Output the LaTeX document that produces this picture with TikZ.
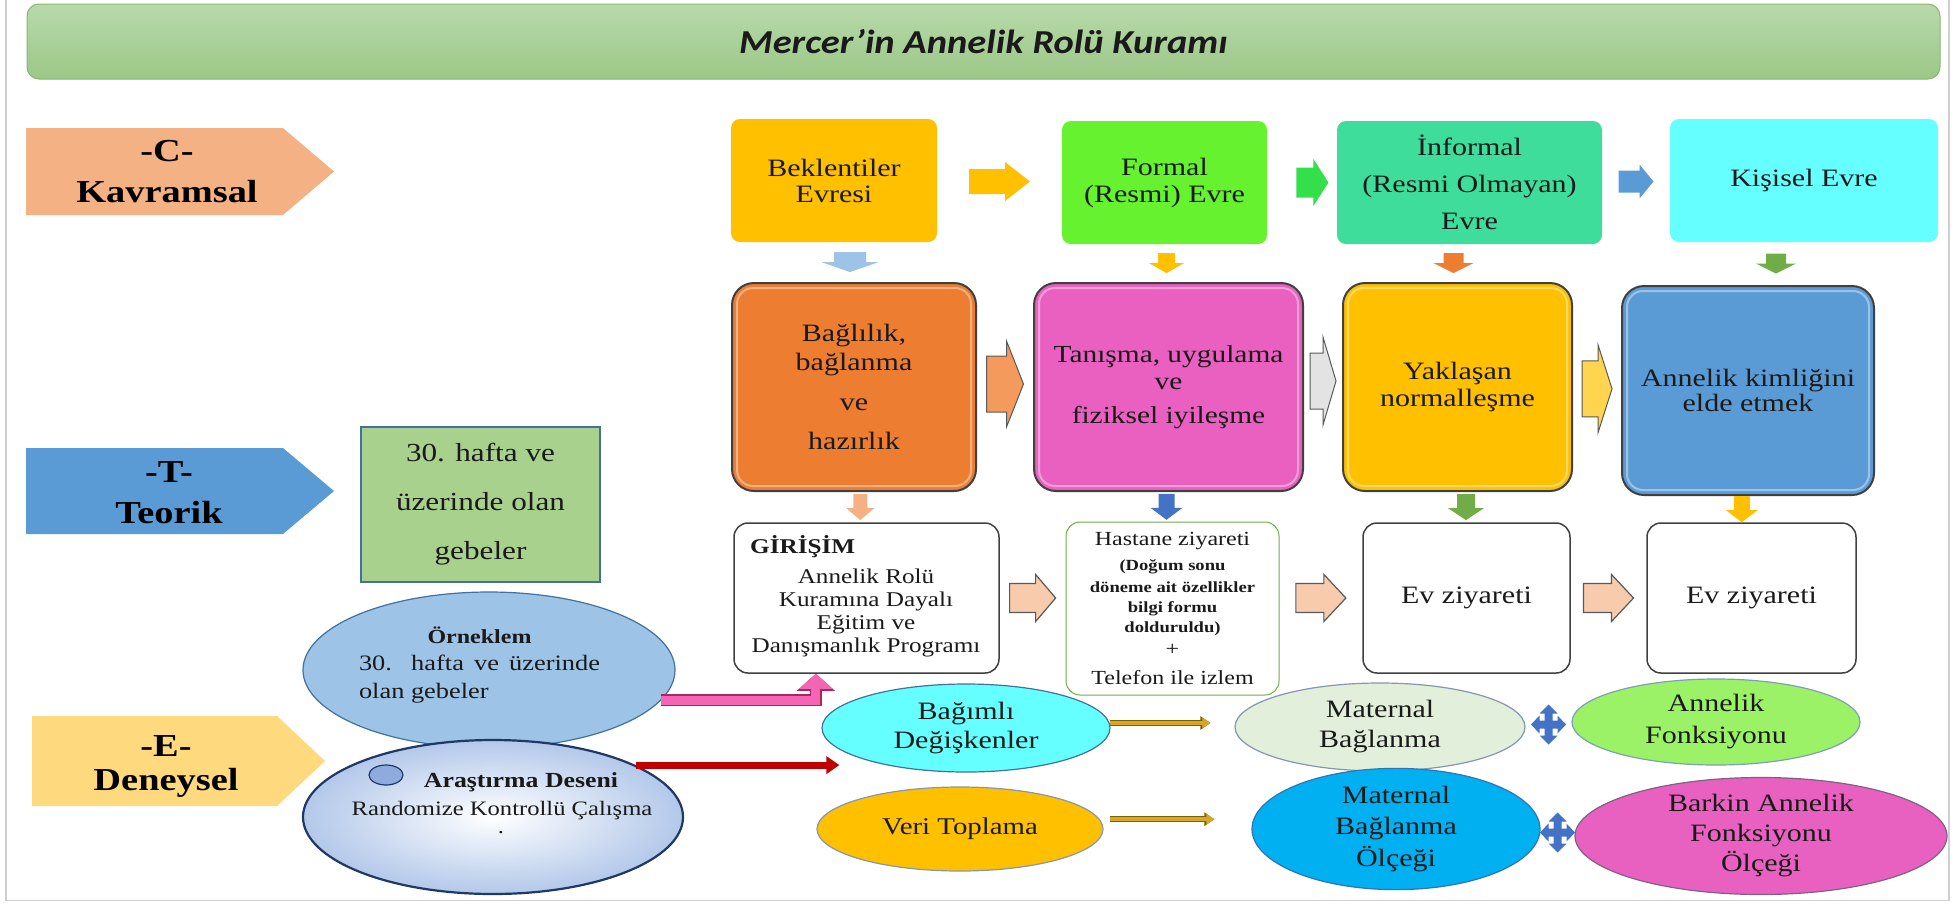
\documentclass[tikz,border=0pt]{standalone}
\usepackage{fontspec}
\setmainfont{Liberation Serif}[FakeStretch=1.2]
\newfontfamily\titlefont{Carlito}[FakeStretch=1.15]
\usetikzlibrary{calc,arrows.meta,shapes.geometric}
\newcommand\fsz[2]{\fontsize{#1}{#2}\selectfont}
\definecolor{cText}{HTML}{1A1A1A}
\definecolor{cFrame}{HTML}{CFCFCF}
\definecolor{cTitleTop}{HTML}{B8DAAB}
\definecolor{cTitleBot}{HTML}{9CC787}
\definecolor{cTitleBorder}{HTML}{86B872}
\definecolor{cC}{HTML}{F4B183}
\definecolor{cT}{HTML}{5B9BD5}
\definecolor{cE}{HTML}{FFD97D}
\definecolor{cB1}{HTML}{FFC000}
\definecolor{cB2}{HTML}{66F22E}
\definecolor{cB3}{HTML}{3EDD9B}
\definecolor{cB4}{HTML}{66FFFF}
\definecolor{cA1}{HTML}{FFC000}
\definecolor{cA2}{HTML}{33E04C}
\definecolor{cA3}{HTML}{5B9BD5}
\definecolor{cR1}{HTML}{ED7D31}
\definecolor{cR2}{HTML}{E960C0}
\definecolor{cR3}{HTML}{FFC000}
\definecolor{cR4}{HTML}{5B9BD5}
\definecolor{cBorder}{HTML}{404040}
\definecolor{cD1}{HTML}{9DC3E6}
\definecolor{cD2}{HTML}{FFC000}
\definecolor{cD3}{HTML}{ED7D31}
\definecolor{cD4}{HTML}{70AD47}
\definecolor{cE1}{HTML}{F4B183}
\definecolor{cE2}{HTML}{4472C4}
\definecolor{cE3}{HTML}{70AD47}
\definecolor{cE4}{HTML}{FFC000}
\definecolor{cH1}{HTML}{F49A5C}
\definecolor{cH2}{HTML}{E3E3E3}
\definecolor{cH3}{HTML}{FFD54F}
\definecolor{cOut}{HTML}{595959}
\definecolor{cG}{HTML}{F8CBAD}
\definecolor{cDark}{HTML}{404040}
\definecolor{cHgreen}{HTML}{70AD47}
\definecolor{cGbox}{HTML}{A9D18E}
\definecolor{cGboxB}{HTML}{41719C}
\definecolor{cOrn}{HTML}{9DC3E6}
\definecolor{cOrnB}{HTML}{41719C}
\definecolor{cAraOuter}{HTML}{B3C8EA}
\definecolor{cAraB}{HTML}{1F3864}
\definecolor{cSmall}{HTML}{8FAADC}
\definecolor{cBag}{HTML}{66FFFF}
\definecolor{cBagB}{HTML}{41719C}
\definecolor{cVeri}{HTML}{FFC000}
\definecolor{cVeriB}{HTML}{8497B0}
\definecolor{cMB}{HTML}{E2EFDA}
\definecolor{cMBB}{HTML}{8497B0}
\definecolor{cAF}{HTML}{9CF266}
\definecolor{cAFB}{HTML}{7F9FB5}
\definecolor{cMBO}{HTML}{00B0F0}
\definecolor{cMBOB}{HTML}{2E75B6}
\definecolor{cBarkin}{HTML}{E961C0}
\definecolor{cBarkinB}{HTML}{7F6084}
\definecolor{cFour}{HTML}{4472C4}
\definecolor{cPink}{HTML}{F266B5}
\definecolor{cPinkB}{HTML}{B0245E}
\definecolor{cRed}{HTML}{C00000}
\definecolor{cGold}{HTML}{D6A62A}
\definecolor{cGoldB}{HTML}{7F6000}
% #1 style, #2 centre, #3 angle, #4 length, #5 shaft width, #6 head width, #7 head length
\newcommand\blockarrow[7]{%
  \begin{scope}[shift={#2},rotate=#3]
  \path[#1] ({-(#4)/2},{-(#5)/2}) -- ({(#4)/2-(#7)},{-(#5)/2}) -- ({(#4)/2-(#7)},{-(#6)/2})
    -- ({(#4)/2},0) -- ({(#4)/2-(#7)},{(#6)/2}) -- ({(#4)/2-(#7)},{(#5)/2}) -- ({-(#4)/2},{(#5)/2}) -- cycle;
  \end{scope}}
\newcommand\fourway[1]{%
  \begin{scope}[shift={#1}]
  \fill[cFour] (17.5,0) -- (9,-9) -- (9,-4) -- (4,-4) -- (4,-11) -- (9,-11) -- (0,-20) -- (-9,-11)
    -- (-4,-11) -- (-4,-4) -- (-9,-4) -- (-9,-9) -- (-17.5,0) -- (-9,9) -- (-9,4) -- (-4,4)
    -- (-4,11) -- (-9,11) -- (0,20) -- (9,11) -- (4,11) -- (4,4) -- (9,4) -- (9,9) -- cycle;
  \end{scope}}
\tikzset{
  topbox/.style={rectangle, rounded corners=9pt, inner sep=0pt, align=center, font=\fsz{25}{26}, text=cText},
  midbox/.style={rectangle, rounded corners=22pt, draw=cBorder, line width=2pt, inner sep=0pt, align=center, font=\fsz{25}{29}, text=cText},
  whitebox/.style={rectangle, rounded corners=14pt, draw=cDark, line width=1.5pt, fill=white, inner sep=0pt, align=center, font=\fsz{25}{27}, text=cText},
  oval/.style={ellipse, inner sep=0pt, line width=1.2pt, align=center, font=\fsz{25}{31}, text=cText},
  lefttext/.style={font=\bfseries\fsz{32}{41}, align=center, inner sep=0pt, text=black},
  plaintext/.style={inner sep=0pt, text=cText},
  gloss/.style={draw=white, opacity=.4, line width=2pt, rounded corners=16pt},
  pinkconn/.style={line width=9pt, draw=cPink, line join=miter, -{Triangle[width=32pt,length=15pt]},
    preaction={draw=cPinkB, line width=12pt, line join=miter, -{Triangle[width=37pt,length=17pt]}}},
  redconn/.style={line width=7pt, draw=cRed, -{Triangle[width=17pt,length=13pt]}},
  goldconn/.style={line width=4pt, draw=cGold, -{Triangle[width=10pt,length=8pt]},
    preaction={draw=cGoldB, line width=6pt, -{Triangle[width=13pt,length=10pt]}}},
}
\begin{document}
\begin{tikzpicture}[x=1pt,y=-1pt]
\useasboundingbox (0,0) rectangle (1960,906);
\fill[white] (0,0) rectangle (1960,906);
\draw[cFrame, line width=1.5pt] (6,-5) -- (6,900.5) -- (1949,900.5) -- (1949,-5);

% title
\node[rectangle, rounded corners=12pt, minimum width=1913pt, minimum height=75pt,
  top color=cTitleTop, bottom color=cTitleBot, draw=cTitleBorder, line width=1pt, inner sep=0pt,
  font=\titlefont\bfseries\itshape\fsz{33.5}{36}, text=cText] (title) at (983.5,41.5) {Mercer’in Annelik Rolü Kuramı};

% left arrows
\fill[cC] (26,128) -- (283,128) -- (334,171.5) -- (283,215) -- (26,215) -- cycle;
\node[lefttext] (kavramsal) at (167,172) {-C-\\Kavramsal};
\fill[cT] (26,448) -- (283,448) -- (334,491) -- (283,534) -- (26,534) -- cycle;
\node[lefttext] (teorik) at (169,492.5) {-T-\\Teorik};
\fill[cE] (32,716) -- (277,716) -- (325,761) -- (277,806) -- (32,806) -- cycle;
\node[lefttext, font=\bfseries\fsz{32}{34}] (deneysel) at (166,766) {-E-\\Deneysel};

% top row
\node[topbox, fill=cB1, minimum width=206pt, minimum height=123pt] (bek) at (834,180.5) {Beklentiler\\Evresi};
\node[topbox, fill=cB2, minimum width=205pt, minimum height=123pt, font=\fsz{25}{27}] (formal) at (1164.5,182.5) {Formal\\(Resmi) Evre};
\node[topbox, fill=cB3, minimum width=265pt, minimum height=123pt, font=\fsz{25}{37}] (informal) at (1469.5,182.5) {İnformal\\(Resmi Olmayan)\\Evre};
\node[topbox, fill=cB4, minimum width=268pt, minimum height=123pt] (kisisel) at (1804,180.5) {Kişisel Evre};

% second row
\node[midbox, fill=cR1, minimum width=244pt, minimum height=208pt] (bag1) at (854,387) {Bağlılık,\\bağlanma\\[11pt]ve\\[10pt]hazırlık};
\node[midbox, fill=cR2, minimum width=269pt, minimum height=208pt, font=\fsz{24.5}{27}] (tanisma) at (1168.5,387) {Tanışma, uygulama\\ve\\[7pt]fiziksel iyileşme};
\node[midbox, fill=cR3, minimum width=229pt, minimum height=208pt, font=\fsz{25}{27}] (yaklasan) at (1457.5,387) {Yaklaşan\\normalleşme};
\node[midbox, fill=cR4, minimum width=252pt, minimum height=209pt, font=\fsz{25}{25}] (kimlik) at (1748,390.5) {Annelik kimliğini\\elde etmek};
\foreach \n in {bag1,tanisma,yaklasan,kimlik}
  \draw[gloss] ($(\n.north west)+(6,6)$) rectangle ($(\n.south east)+(-6,-6)$);

% third row
\node[whitebox, minimum width=265pt, minimum height=150pt] (girisim) at (866.5,598) {};
\node[plaintext, anchor=base west, font=\bfseries\fsz{21}{23}] (girisimbaslik) at (750,553) {GİRİŞİM};
\node[plaintext, align=center, font=\fsz{21}{22.7}] (girisimtext) at (866,613) {Annelik Rolü\\Kuramına Dayalı\\Eğitim ve\\Danışmanlık Programı};
\node[whitebox, draw=cHgreen, line width=1pt, minimum width=213pt, minimum height=173pt, font=\fsz{20}{20}] (hastane) at (1172.5,608.5)
  {Hastane ziyareti\\[5pt]
   {\bfseries\fsz{15.5}{20}(Doğum sonu}\\[2pt]
   {\bfseries\fsz{15.5}{20}döneme ait özellikler}\\
   {\bfseries\fsz{15.5}{20}bilgi formu}\\
   {\bfseries\fsz{15.5}{20}dolduruldu)}\\[3pt]
   +\\[9pt]
   Telefon ile izlem};
\node[whitebox, minimum width=207pt, minimum height=150pt] (ev1) at (1466.5,598) {Ev ziyareti};
\node[whitebox, minimum width=209pt, minimum height=150pt] (ev2) at (1751.5,598) {Ev ziyareti};

% left content
\node[rectangle, fill=cGbox, draw=cGboxB, line width=1.5pt, minimum width=239pt, minimum height=155pt,
  align=center, font=\fsz{26}{49}, inner sep=0pt, text=cText] (hafta) at (480.5,504.5) {30. hafta ve\\üzerinde olan\\gebeler};
\node[oval, fill=cOrn, draw=cOrnB, minimum width=372pt, minimum height=156pt] (orneklem) at (489,670) {};
\node[plaintext, text width=241pt, align=justify, font=\fsz{22}{27.5}] (ornektext) at (479.5,665)
  {\hyphenpenalty=10000\tolerance=9999{\centering\bfseries\fsz{20}{27.5}\noindent Örneklem\par}\noindent 30. hafta ve üzerinde olan gebeler};
\node[oval, inner color=white, outer color=cAraOuter, draw=cAraB, line width=2.2pt, minimum width=380pt, minimum height=154pt] (arastirma) at (493,817) {};
\node[ellipse, fill=cSmall, draw=cAraB, line width=1.2pt, minimum width=34pt, minimum height=20pt, inner sep=0pt] (kucuk) at (386,775) {};
\node[plaintext, anchor=base, font=\bfseries\fsz{21.5}{24}] (aratitle) at (521,787) {Araştırma Deseni};
\node[plaintext, anchor=base, font=\fsz{20.5}{24}] (aradesen) at (502,815) {Randomize Kontrollü Çalışma};
\node[plaintext, anchor=base, font=\fsz{20.5}{24}] (aranokta) at (501,833) {.};

% bottom ellipses
\node[oval, fill=cBag, draw=cBagB, minimum width=288pt, minimum height=88pt, font=\fsz{25}{28.5}] (bagimli) at (966,728) {Bağımlı\\Değişkenler};
\node[oval, fill=cVeri, draw=cVeriB, minimum width=286pt, minimum height=84pt, font=\fsz{24}{28}] (veri) at (960,829) {Veri Toplama};
\node[oval, fill=cMB, draw=cMBB, minimum width=290pt, minimum height=88pt, font=\fsz{25}{30}] (maternal) at (1380,727) {Maternal\\Bağlanma};
\node[oval, fill=cAF, draw=cAFB, minimum width=288pt, minimum height=86pt, font=\fsz{25}{32}] (annfonk) at (1716,722) {Annelik\\Fonksiyonu};
\node[oval, fill=cMBO, draw=cMBOB, minimum width=288pt, minimum height=102pt, font=\fsz{25}{31.5}] (olcek) at (1396,829) {Maternal\\Bağlanma\\Ölçeği};
\node[oval, fill=cBarkin, draw=cBarkinB, minimum width=372pt, minimum height=106pt, font=\fsz{25}{30}] (barkin) at (1761,836) {Barkin Annelik\\Fonksiyonu\\Ölçeği};

% top horizontal arrows
\blockarrow{fill=cA1}{($(bek.east)!0.5!(formal.west)$)}{0}{61}{25}{39}{25}
\blockarrow{fill=cA2}{($(formal.east)!0.65!(informal.west)$)}{0}{32}{30}{47}{15}
\blockarrow{fill=cA3}{($(informal.east)!0.5!(kisisel.west)$)}{0}{35}{22}{34}{14}
% down arrows row 1 -> row 2
\blockarrow{fill=cD1}{($(bek.south)!0.5!(bag1.north)+(6,0)$)}{-90}{20}{32}{57}{10}
\blockarrow{fill=cD2}{($(formal.south)!0.5!(tanisma.north)$)}{-90}{20}{17}{35}{10}
\blockarrow{fill=cD3}{($(informal.south)!0.5!(yaklasan.north)+(-10,0)$)}{-90}{20}{20}{40}{10}
\blockarrow{fill=cD4}{($(kisisel.south)!0.5!(kimlik.north)$)}{-90}{20}{20}{40}{10}
% row 2 horizontal arrows
\blockarrow{fill=cH1, draw=cOut, line width=1pt}{($(bag1.east)!0.5!(tanisma.west)+(0,-3)$)}{0}{37}{56}{86}{17}
\blockarrow{fill=cH2, draw=cOut, line width=1pt}{($(tanisma.east)!0.5!(yaklasan.west)+(0,-6)$)}{0}{26}{56}{88}{13}
\blockarrow{fill=cH3, draw=cOut, line width=1pt}{($(yaklasan.east)!0.5!(kimlik.west)$)}{0}{30}{56}{88}{14}
% down arrows row 2 -> row 3
\blockarrow{fill=cE1}{($(bag1.south)!0.5!(girisim.north)$)}{-90}{26}{14}{28}{12}
\blockarrow{fill=cE2}{($(tanisma.south)!0.5!(hastane.north)+(-4,0)$)}{-90}{26}{16}{32}{12}
\blockarrow{fill=cE3}{($(yaklasan.south)!0.5!(ev1.north)+(4,0)$)}{-90}{26}{18}{36}{12}
\blockarrow{fill=cE4}{($(kimlik.south)!0.5!(ev2.north)+(-8,0)$)}{-90}{26}{16}{32}{12}
% row 3 horizontal arrows
\blockarrow{fill=cG, draw=cOut, line width=1.2pt}{($(girisim.east)!0.5!(girisim.east -| hastane.west)$)}{0}{46}{29}{47}{20}
\blockarrow{fill=cG, draw=cOut, line width=1.2pt}{($(ev1.west)!0.5!(ev1.west -| hastane.east)$)}{0}{50}{29}{47}{22}
\blockarrow{fill=cG, draw=cOut, line width=1.2pt}{($(ev1.east)!0.5!(ev2.west)$)}{0}{50}{29}{47}{22}

% connectors
\draw[pinkconn] (orneklem.-10) -| ($(girisim.south west)!0.31!(girisim.south east)$);
\draw[redconn] (arastirma.20) -- ($(arastirma.20 -| bagimli.west)+(18,0)$);
\draw[goldconn] (bagimli.2.5) -- ($(bagimli.2.5 -| maternal.west)+(-24,0)$);
\draw[goldconn] ($(veri.4)+(10,0)$) -- ($(veri.4 -| olcek.west)+(-37,0)$);
\fourway{($(maternal.east)!0.5!(annfonk.west)$)}
\fourway{($(olcek.east)!0.5!(barkin.west)$)}
\end{tikzpicture}
\end{document}
